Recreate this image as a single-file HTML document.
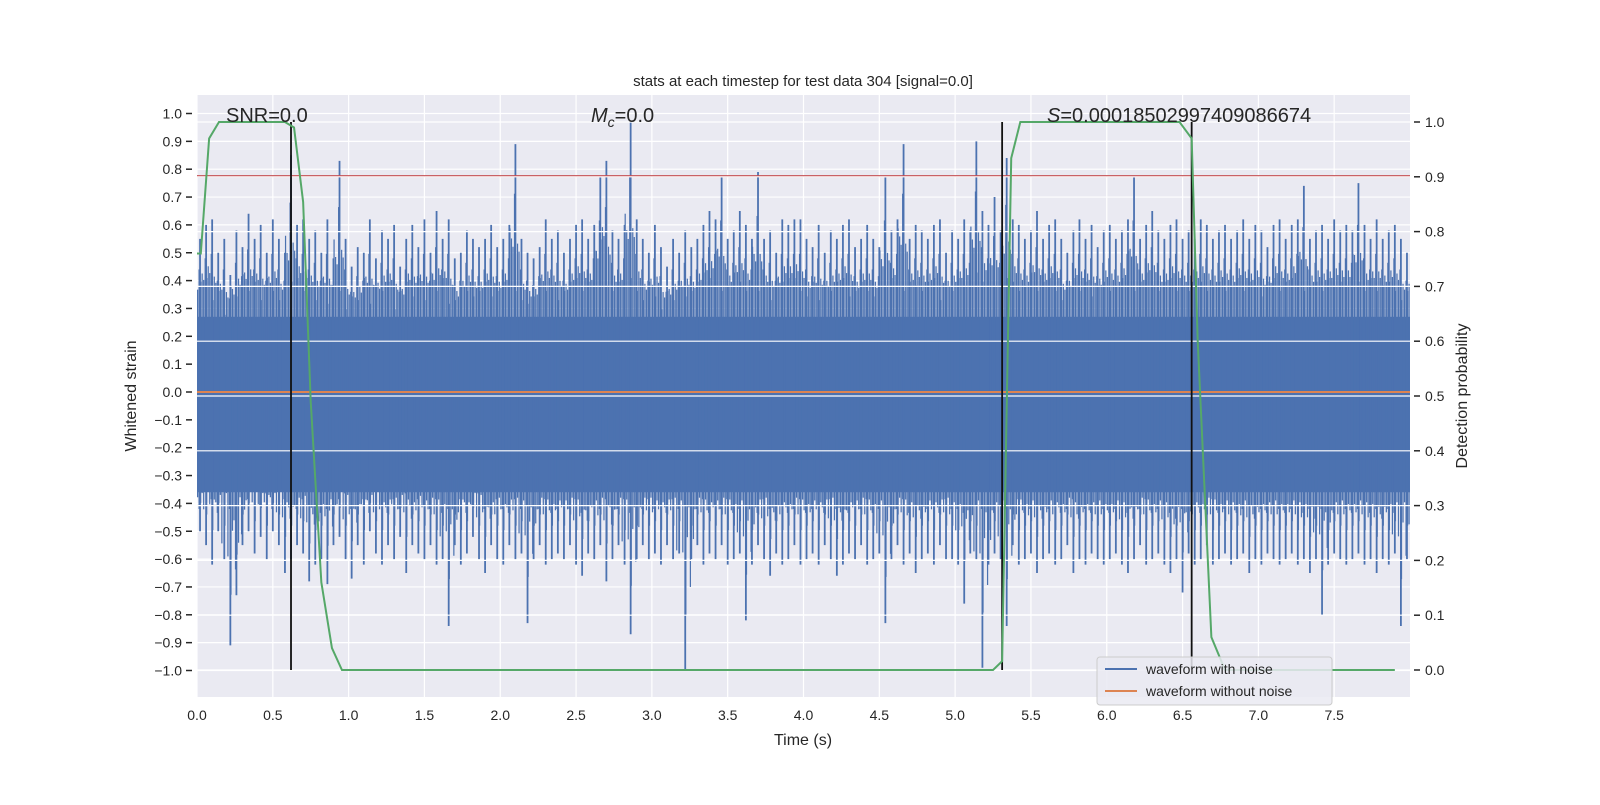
<!DOCTYPE html>
<html><head><meta charset="utf-8"><style>
body{margin:0;background:#fff;}
svg text{font-family:"Liberation Sans","DejaVu Sans",sans-serif;fill:#262626;}
</style></head><body>
<svg id="chart" width="1600" height="800" viewBox="0 0 1600 800">
<rect x="197" y="95" width="1213" height="602" fill="#EAEAF2"/>
<g id="gridBelow"></g>
<g id="marks"></g>
<g id="gridAbove"></g>
<g id="overlay"></g>
<g id="axes"></g>
<text x="803" y="86" font-size="15" text-anchor="middle">stats at each timestep for test data 304 [signal=0.0]</text>
<text x="803" y="745" font-size="16" text-anchor="middle">Time (s)</text>
<text x="136" y="396" font-size="16" text-anchor="middle" transform="rotate(-90 136 396)">Whitened strain</text>
<text x="1467" y="396" font-size="16" text-anchor="middle" transform="rotate(-90 1467 396)">Detection probability</text>
<text x="226" y="122" font-size="20">SNR=0.0</text>
<text x="591" y="122" font-size="20"><tspan font-style="italic">M</tspan><tspan font-style="italic" font-size="14" dy="5">c</tspan><tspan dy="-5">=0.0</tspan></text>
<text x="1047" y="122" font-size="20"><tspan font-style="italic">S</tspan>=0.00018502997409086674</text>
<g>
<rect x="1097" y="657" width="235" height="48" rx="3" fill="#EAEAF2" fill-opacity="0.85" stroke="#ccc"/>
<line x1="1105" y1="669" x2="1137" y2="669" stroke="#4C72B0" stroke-width="2"/>
<text x="1146" y="674" font-size="14">waveform with noise</text>
<line x1="1105" y1="691" x2="1137" y2="691" stroke="#DD8452" stroke-width="2"/>
<text x="1146" y="696" font-size="14">waveform without noise</text>
</g>
</svg>
<script>
const binWidth = 0.04;
const strainHi = [
0.55,0.6,0.62,0.5,0.55,0.42,0.58,0.52,0.64,0.55,
0.6,0.5,0.62,0.55,0.5,0.85,0.6,0.62,0.55,0.58,
0.5,0.62,0.48,0.83,0.55,0.45,0.52,0.5,0.62,0.48,
0.58,0.55,0.6,0.45,0.55,0.6,0.52,0.62,0.5,0.65,
0.55,0.62,0.48,0.5,0.58,0.55,0.52,0.55,0.6,0.52,
0.55,0.6,0.89,0.55,0.5,0.48,0.52,0.62,0.55,0.58,
0.5,0.55,0.6,0.62,0.55,0.6,0.77,0.83,0.58,0.55,
0.6,0.97,0.62,0.55,0.5,0.6,0.52,0.45,0.55,0.5,
0.58,0.52,0.55,0.6,0.65,0.62,0.77,0.55,0.58,0.65,
0.6,0.55,0.79,0.55,0.58,0.5,0.62,0.6,0.62,0.62,
0.55,0.52,0.6,0.5,0.58,0.55,0.6,0.62,0.52,0.55,
0.6,0.55,0.52,0.77,0.58,0.62,0.89,0.55,0.6,0.58,
0.55,0.6,0.62,0.5,0.58,0.55,0.62,0.58,0.9,0.65,
0.6,0.7,0.58,0.84,0.62,0.6,0.55,0.58,0.65,0.55,
0.6,0.62,0.55,0.5,0.58,0.62,0.55,0.6,0.52,0.58,
0.6,0.55,0.58,0.62,0.77,0.55,0.6,0.65,0.58,0.55,
0.6,0.62,0.55,0.58,0.55,0.62,0.6,0.55,0.58,0.6,
0.55,0.58,0.62,0.55,0.6,0.58,0.52,0.6,0.62,0.55,
0.6,0.62,0.74,0.55,0.58,0.6,0.55,0.62,0.58,0.6,
0.58,0.75,0.6,0.55,0.62,0.55,0.58,0.6,0.55,0.5];
const strainLo = [
-0.5,-0.55,-0.62,-0.5,-0.6,-0.91,-0.73,-0.55,-0.5,-0.58,
-0.52,-0.6,-0.5,-0.55,-0.65,-0.6,-0.55,-0.58,-0.68,-0.62,
-0.6,-0.69,-0.55,-0.52,-0.6,-0.67,-0.55,-0.62,-0.5,-0.58,
-0.62,-0.55,-0.6,-0.52,-0.65,-0.55,-0.58,-0.6,-0.55,-0.62,
-0.6,-0.84,-0.55,-0.62,-0.58,-0.52,-0.6,-0.65,-0.55,-0.6,
-0.62,-0.55,-0.6,-0.58,-0.83,-0.6,-0.55,-0.62,-0.6,-0.58,
-0.6,-0.55,-0.62,-0.66,-0.58,-0.6,-0.55,-0.68,-0.6,-0.55,
-0.62,-0.87,-0.6,-0.55,-0.6,-0.58,-0.62,-0.55,-0.6,-0.58,
-1.0,-0.6,-0.55,-0.62,-0.58,-0.6,-0.55,-0.62,-0.6,-0.58,
-0.82,-0.62,-0.55,-0.6,-0.66,-0.58,-0.62,-0.6,-0.55,-0.62,
-0.6,-0.58,-0.62,-0.55,-0.6,-0.66,-0.62,-0.58,-0.6,-0.55,
-0.62,-0.6,-0.58,-0.83,-0.6,-0.55,-0.62,-0.58,-0.65,-0.6,
-0.58,-0.62,-0.55,-0.6,-0.6,-0.62,-0.76,-0.58,-0.6,-0.99,
-0.62,-0.58,-0.6,-0.84,-0.55,-0.62,-0.6,-0.58,-0.65,-0.6,
-0.58,-0.62,-0.6,-0.55,-0.65,-0.6,-0.62,-0.58,-0.6,-0.62,
-0.6,-0.58,-0.62,-0.65,-0.6,-0.55,-0.62,-0.6,-0.58,-0.62,
-0.65,-0.6,-0.72,-0.58,-0.62,-0.6,-0.55,-0.62,-0.6,-0.58,
-0.62,-0.6,-0.58,-0.65,-0.6,-0.62,-0.58,-0.6,-0.62,-0.6,
-0.58,-0.62,-0.6,-0.65,-0.6,-0.8,-0.62,-0.58,-0.6,-0.62,
-0.6,-0.58,-0.62,-0.6,-0.65,-0.6,-0.62,-0.58,-0.84,-0.6];
const coreBand = [-0.36, 0.27];
const probTimes = [0.0,0.025,0.08,0.145,0.58,0.64,0.70,0.75,0.82,0.89,0.956,1.5,2.5,3.5,4.5,5.25,5.31,5.37,5.43,6.48,6.56,6.60,6.69,6.78,7.9];
const probValues = [0.76,0.76,0.97,1.0,1.0,0.99,0.854,0.49,0.16,0.04,0.0,0.0,0.0,0.0,0.0,0.0,0.016,0.934,1.0,1.0,0.97,0.6,0.06,0.0,0.0];
const eventTimes = [0.62, 5.31, 6.56];
const thresholdValue = 0.775;
const xTicks = [0,0.5,1,1.5,2,2.5,3,3.5,4,4.5,5,5.5,6,6.5,7,7.5];
const yTicks = [-1,-0.9,-0.8,-0.7,-0.6,-0.5,-0.4,-0.3,-0.2,-0.1,0,0.1,0.2,0.3,0.4,0.5,0.6,0.7,0.8,0.9,1.0];
const y2Ticks = [0,0.1,0.2,0.3,0.4,0.5,0.6,0.7,0.8,0.9,1.0];

const X0=197, X1=1410, T0=0, T1=8.0;
const xs = t => X0 + (t-T0)/(T1-T0)*(X1-X0);
const ys = v => 392 - v*278.5;
const y2s = p => 670 - p*548;
const NS='http://www.w3.org/2000/svg';
function mk(tag, parent){const e=document.createElementNS(NS,tag);document.getElementById(parent).appendChild(e);return e;}

xTicks.forEach(t=>{const l=mk('line','gridBelow');


l.setAttribute('x1',xs(t));l.setAttribute('x2',xs(t));l.setAttribute('y1',95);l.setAttribute('y2',697);l.setAttribute('stroke','#fff');l.setAttribute('stroke-width','1.2');});
yTicks.forEach(v=>{const l=mk('line','gridBelow');


l.setAttribute('x1',X0);l.setAttribute('x2',X1);l.setAttribute('y1',ys(v));l.setAttribute('y2',ys(v));l.setAttribute('stroke','#fff');l.setAttribute('stroke-width','1.2');});

const core=mk('rect','marks');


core.setAttribute('x',X0);core.setAttribute('width',xs(strainHi.length*binWidth)-X0);
core.setAttribute('y',ys(coreBand[1]));core.setAttribute('height',ys(coreBand[0])-ys(coreBand[1]));core.setAttribute('fill','#4C72B0');
const N=strainHi.length;
strainHi.forEach((h,i)=>{
  const lo=strainLo[i];
  const hn=strainHi[(i+1)%N], ln=strainLo[(i+1)%N];
  const hp=strainHi[(i+N-1)%N], lp=strainLo[(i+N-1)%N];
  const x0=xs(i*binWidth), x1=xs((i+1)*binWidth), w=(x1-x0)/4;
  // sub-strokes give the dense, irregular fringe
  const subs=[[ (h+hp)/2*0.7, (lo+ln)/2*0.72 ],[ h*0.8, lp*0.7 ],[ hn*0.66, lo*0.8 ],[ (h+hn)/2*0.74, (lo+lp)/2*0.66 ]];
  subs.forEach((s,k)=>{
    const f=mk('rect','marks');
    
    
    f.setAttribute('x',x0+k*w);f.setAttribute('width',w*0.8);
    f.setAttribute('y',ys(s[0]));f.setAttribute('height',ys(s[1])-ys(s[0]));f.setAttribute('fill','#4C72B0');
  });
  const l=mk('line','marks');
  
  
  const xc=xs((i+0.5)*binWidth);
  l.setAttribute('x1',xc);l.setAttribute('x2',xc);l.setAttribute('y1',ys(h));l.setAttribute('y2',ys(lo));l.setAttribute('stroke','#4C72B0');l.setAttribute('stroke-width','1.8');
});
const clean=mk('line','marks');


clean.setAttribute('x1',X0);clean.setAttribute('x2',X1);clean.setAttribute('y1',ys(0));clean.setAttribute('y2',ys(0));clean.setAttribute('stroke','#DD8452');clean.setAttribute('stroke-width','2');
const thr=mk('line','marks');


thr.setAttribute('x1',X0);thr.setAttribute('x2',X1);thr.setAttribute('y1',ys(thresholdValue));thr.setAttribute('y2',ys(thresholdValue));thr.setAttribute('stroke','#C44E52');thr.setAttribute('stroke-width','2');

y2Ticks.forEach(p=>{const l=mk('line','gridAbove');


l.setAttribute('x1',X0);l.setAttribute('x2',X1);l.setAttribute('y1',y2s(p));l.setAttribute('y2',y2s(p));l.setAttribute('stroke','#fff');l.setAttribute('stroke-width','1.2');});

eventTimes.forEach(t=>{const l=mk('line','overlay');


l.setAttribute('x1',xs(t));l.setAttribute('x2',xs(t));l.setAttribute('y1',y2s(1.0));l.setAttribute('y2',y2s(0));l.setAttribute('stroke','#111');l.setAttribute('stroke-width','1.8');});
const pl=mk('polyline','overlay');


pl.setAttribute('points',probTimes.map((t,i)=>xs(t)+','+y2s(probValues[i])).join(' '));
pl.setAttribute('fill','none');pl.setAttribute('stroke','#55A868');pl.setAttribute('stroke-width','2');

xTicks.forEach(t=>{const tx=mk('text','axes');


tx.setAttribute('x',xs(t));tx.setAttribute('y',720);tx.setAttribute('font-size','14');tx.setAttribute('text-anchor','middle');tx.textContent=t.toFixed(1);});
yTicks.forEach(v=>{const tx=mk('text','axes');


tx.setAttribute('x',182);tx.setAttribute('y',ys(v)+5);tx.setAttribute('font-size','14');tx.setAttribute('text-anchor','end');tx.textContent=(v<0?'\u2212':'')+Math.abs(v).toFixed(1);
const tk=mk('line','axes');


tk.setAttribute('x1',186);tk.setAttribute('x2',192);tk.setAttribute('y1',ys(v));tk.setAttribute('y2',ys(v));tk.setAttribute('stroke','#262626');tk.setAttribute('stroke-width','1.5');});
y2Ticks.forEach(p=>{const tx=mk('text','axes');


tx.setAttribute('x',1425);tx.setAttribute('y',y2s(p)+5);tx.setAttribute('font-size','14');tx.textContent=p.toFixed(1);
const tk=mk('line','axes');


tk.setAttribute('x1',1414);tk.setAttribute('x2',1420);tk.setAttribute('y1',y2s(p));tk.setAttribute('y2',y2s(p));tk.setAttribute('stroke','#262626');tk.setAttribute('stroke-width','1.5');});
</script>
</body></html>
